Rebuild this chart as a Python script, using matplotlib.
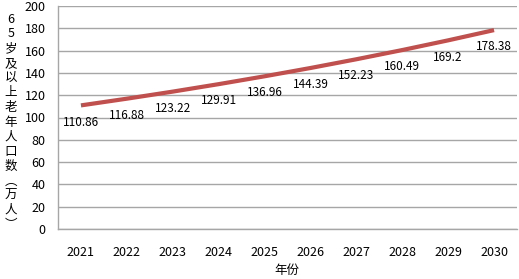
import matplotlib
matplotlib.use("Agg")
import matplotlib.pyplot as plt

plt.rcParams['font.family'] = ['Noto Sans CJK SC', 'DejaVu Sans']

years = ["2021", "2022", "2023", "2024", "2025", "2026", "2027", "2028", "2029", "2030"]
elderly = [110.86, 116.88, 123.22, 129.91, 136.96, 144.39, 152.23, 160.49, 169.2, 178.38]
value_labels = ["110.86", "116.88", "123.22", "129.91", "136.96", "144.39", "152.23", "160.49", "169.2", "178.38"]
y_title = ["6", "5", "岁", "及", "以", "上", "老", "年", "人", "口", "数", "︵", "万", "人", "︶"]
x_title = "年份"

fig = plt.figure(figsize=(5.19, 2.79), dpi=100)
ax = fig.add_axes([58 / 519, 1 - 229 / 279, 459 / 519, 223 / 279])

x = list(range(len(years)))
ax.plot(x, elderly, color="#C0504D", linewidth=3, solid_capstyle="butt")
for xi, yi, lab in zip(x, elderly, value_labels):
    ax.annotate(lab, (xi, yi), xytext=(0, -12), textcoords="offset points",
                ha="center", va="center", fontsize=8.5, color="black")

ax.set_xlim(-0.5, len(years) - 0.5)
ax.set_ylim(0, 200)
ax.set_yticks(range(0, 201, 20))
ax.set_xticks(x)
ax.set_xticklabels(years)
ax.tick_params(axis="both", length=0, labelsize=9, colors="black")
ax.tick_params(axis="x", pad=12)
ax.tick_params(axis="y", pad=9)
ax.grid(axis="y", color="#A6A6A6", linewidth=1)
ax.set_axisbelow(True)
for side in ("top", "right"):
    ax.spines[side].set_visible(False)
for side in ("left", "bottom"):
    ax.spines[side].set_color("#A6A6A6")
    ax.spines[side].set_linewidth(1)

fig.text(11 / 519, 1 - 122 / 279, "\n".join(y_title), ha="center", va="center",
         fontsize=9, linespacing=1.17)
fig.text(287 / 519, 1 - 270 / 279, x_title, ha="center", va="center", fontsize=9)

fig.savefig("out.png", dpi=100)
